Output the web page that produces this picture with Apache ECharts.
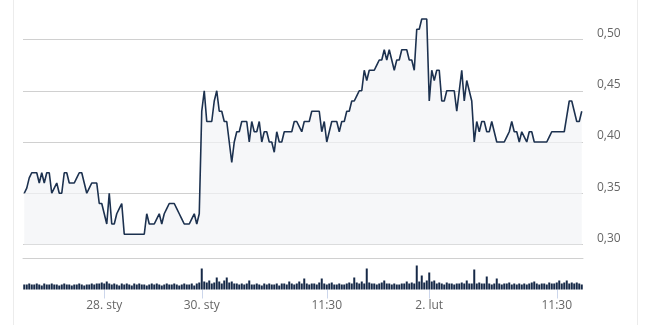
<!DOCTYPE html>
<html>
<head>
<meta charset="utf-8">
<script src="https://cdn.jsdelivr.net/npm/echarts@6/dist/echarts.min.js"></script>
<style>
html,body{margin:0;padding:0;background:#fff;}
#wrap{position:relative;width:645px;height:325px;}
.bl{position:absolute;top:0;width:1px;height:325px;background:#ececec;}
#chart{position:absolute;left:0;top:0;width:645px;height:325px;}
</style>
</head>
<body>
<div id="wrap">
<div class="bl" style="left:13px"></div>
<div class="bl" style="left:637px"></div>
<div id="chart"></div>
</div>
<script>
const price = [
.35,.355,.365,.37,.37,.37,.36,.37,.36,.37,
.37,.35,.355,.36,.35,.35,.37,.37,.36,.36,
.36,.365,.37,.37,.36,.35,.355,.36,.36,.36,
.34,.34,.33,.32,.35,.32,.32,.33,.335,.34,
.31,.31,.31,.31,.31,.31,.31,.31,.31,.33,
.32,.32,.32,.325,.33,.32,.33,.335,.34,.34,
.34,.335,.33,.325,.32,.32,.32,.325,.33,.32,
.33,.43,.45,.42,.42,.42,.44,.45,.43,.43,
.42,.42,.40,.38,.40,.41,.41,.42,.42,.42,
.40,.42,.41,.41,.42,.40,.41,.41,.40,.40,
.39,.41,.40,.40,.41,.41,.41,.41,.42,.42,
.415,.41,.42,.42,.42,.43,.43,.43,.43,.41,
.42,.40,.41,.42,.42,.42,.41,.42,.42,.43,
.43,.44,.44,.445,.45,.45,.47,.46,.47,.47,
.47,.475,.48,.48,.49,.48,.49,.48,.47,.48,
.48,.49,.49,.49,.48,.48,.47,.51,.51,.52,
.52,.52,.44,.47,.46,.47,.47,.44,.44,.45,
.45,.45,.45,.43,.45,.47,.44,.46,.45,.44,
.40,.42,.41,.42,.42,.41,.41,.42,.41,.40,
.40,.40,.40,.405,.41,.42,.41,.41,.40,.41,
.405,.40,.41,.41,.40,.40,.40,.40,.40,.40,
.405,.41,.41,.41,.41,.41,.41,.425,.44,.44,
.43,.42,.42,.43
];
const volume = [
5,5,6,5,5,6,5,4,6,5,
5,6,5,5,4,5,6,5,5,4,
5,5,6,5,4,5,5,6,5,6,
6,7,6,8,6,5,6,5,4,6,
5,6,5,4,6,5,6,5,5,4,
5,6,5,6,5,4,5,6,5,5,
6,5,4,5,6,5,5,6,4,6,
7,21,8,7,9,6,7,12,8,6,
9,12,7,8,6,6,5,6,5,6,
9,5,5,6,5,4,6,5,6,5,
5,6,4,6,6,5,8,6,5,6,
8,6,11,6,5,6,6,5,7,11,
6,5,6,7,5,5,6,5,5,6,
7,6,12,7,6,8,6,21,7,6,
6,5,6,7,9,6,6,5,6,5,
5,6,6,8,6,7,6,24,8,14,
7,9,17,8,9,6,7,6,5,7,
6,6,5,6,6,7,6,9,6,6,
20,6,7,6,6,13,6,5,6,11,
6,5,6,6,7,5,6,5,6,5,
6,5,6,7,8,6,5,6,6,5,
7,6,6,7,9,6,7,9,6,7,
6,7,6,5
];
const tickIndex = [32, 71, 121, 162, 213];
const tickText = ['28. sty', '30. sty', '11:30', '2. lut', '11:30'];

const categories = price.map((_, i) => i);
const isTick = (i) => tickIndex.indexOf(i) >= 0;
const FONT = 'Open Sans';

const chart = echarts.init(document.getElementById('chart'), null, {renderer: 'canvas'});
chart.setOption({
  animation: false,
  backgroundColor: 'transparent',
  grid: [
    {left: 23, right: 62, top: -11.75, bottom: 80.5, containLabel: false, outerBoundsMode: 'none'},
    {left: 23, right: 62, top: 258, bottom: 35.5, containLabel: false, outerBoundsMode: 'none'}
  ],
  xAxis: [
    {type: 'category', gridIndex: 0, data: categories, boundaryGap: true, show: false},
    {type: 'category', gridIndex: 1, data: categories, boundaryGap: true,
      axisLine: {show: false},
      axisTick: {show: true, alignWithLabel: true, length: 9, interval: (i) => isTick(i),
        lineStyle: {color: '#ccd6eb', width: 1}},
      axisLabel: {show: true, interval: (i) => isTick(i), margin: 10,
        color: '#666666', fontSize: 12, fontFamily: FONT,
        formatter: (v) => { const k = tickIndex.indexOf(Number(v)); return k >= 0 ? tickText[k] : ''; }},
      splitLine: {show: false}
    },
    {type: 'category', gridIndex: 1, data: categories, position: 'top', boundaryGap: true,
      axisLine: {show: true, lineStyle: {color: '#d0d0d0', width: 1}},
      axisTick: {show: false}, axisLabel: {show: false}, splitLine: {show: false}}
  ],
  yAxis: [
    {type: 'value', gridIndex: 0, position: 'right', min: 0.30, max: 0.55, interval: 0.05,
      axisLine: {show: false}, axisTick: {show: false},
      splitLine: {show: true, lineStyle: {color: '#d0d0d0', width: 1}},
      axisLabel: {show: true, margin: 14, color: '#666666', fontSize: 12, fontFamily: FONT,
        verticalAlign: 'bottom',
        formatter: (v) => v.toFixed(2).replace('.', ',')}
    },
    {type: 'value', gridIndex: 1, min: 0, max: 31.5, show: false, splitLine: {show: false}}
  ],
  series: [
    {type: 'line', xAxisIndex: 0, yAxisIndex: 0, data: price, symbol: 'none',
      lineStyle: {color: '#1c314f', width: 1.6},
      areaStyle: {color: '#f2f4f7', origin: 'start'}},
    {type: 'bar', xAxisIndex: 1, yAxisIndex: 1, data: volume, barWidth: 2,
      itemStyle: {color: '#162947'}}
  ]
});
</script>
</body>
</html>
